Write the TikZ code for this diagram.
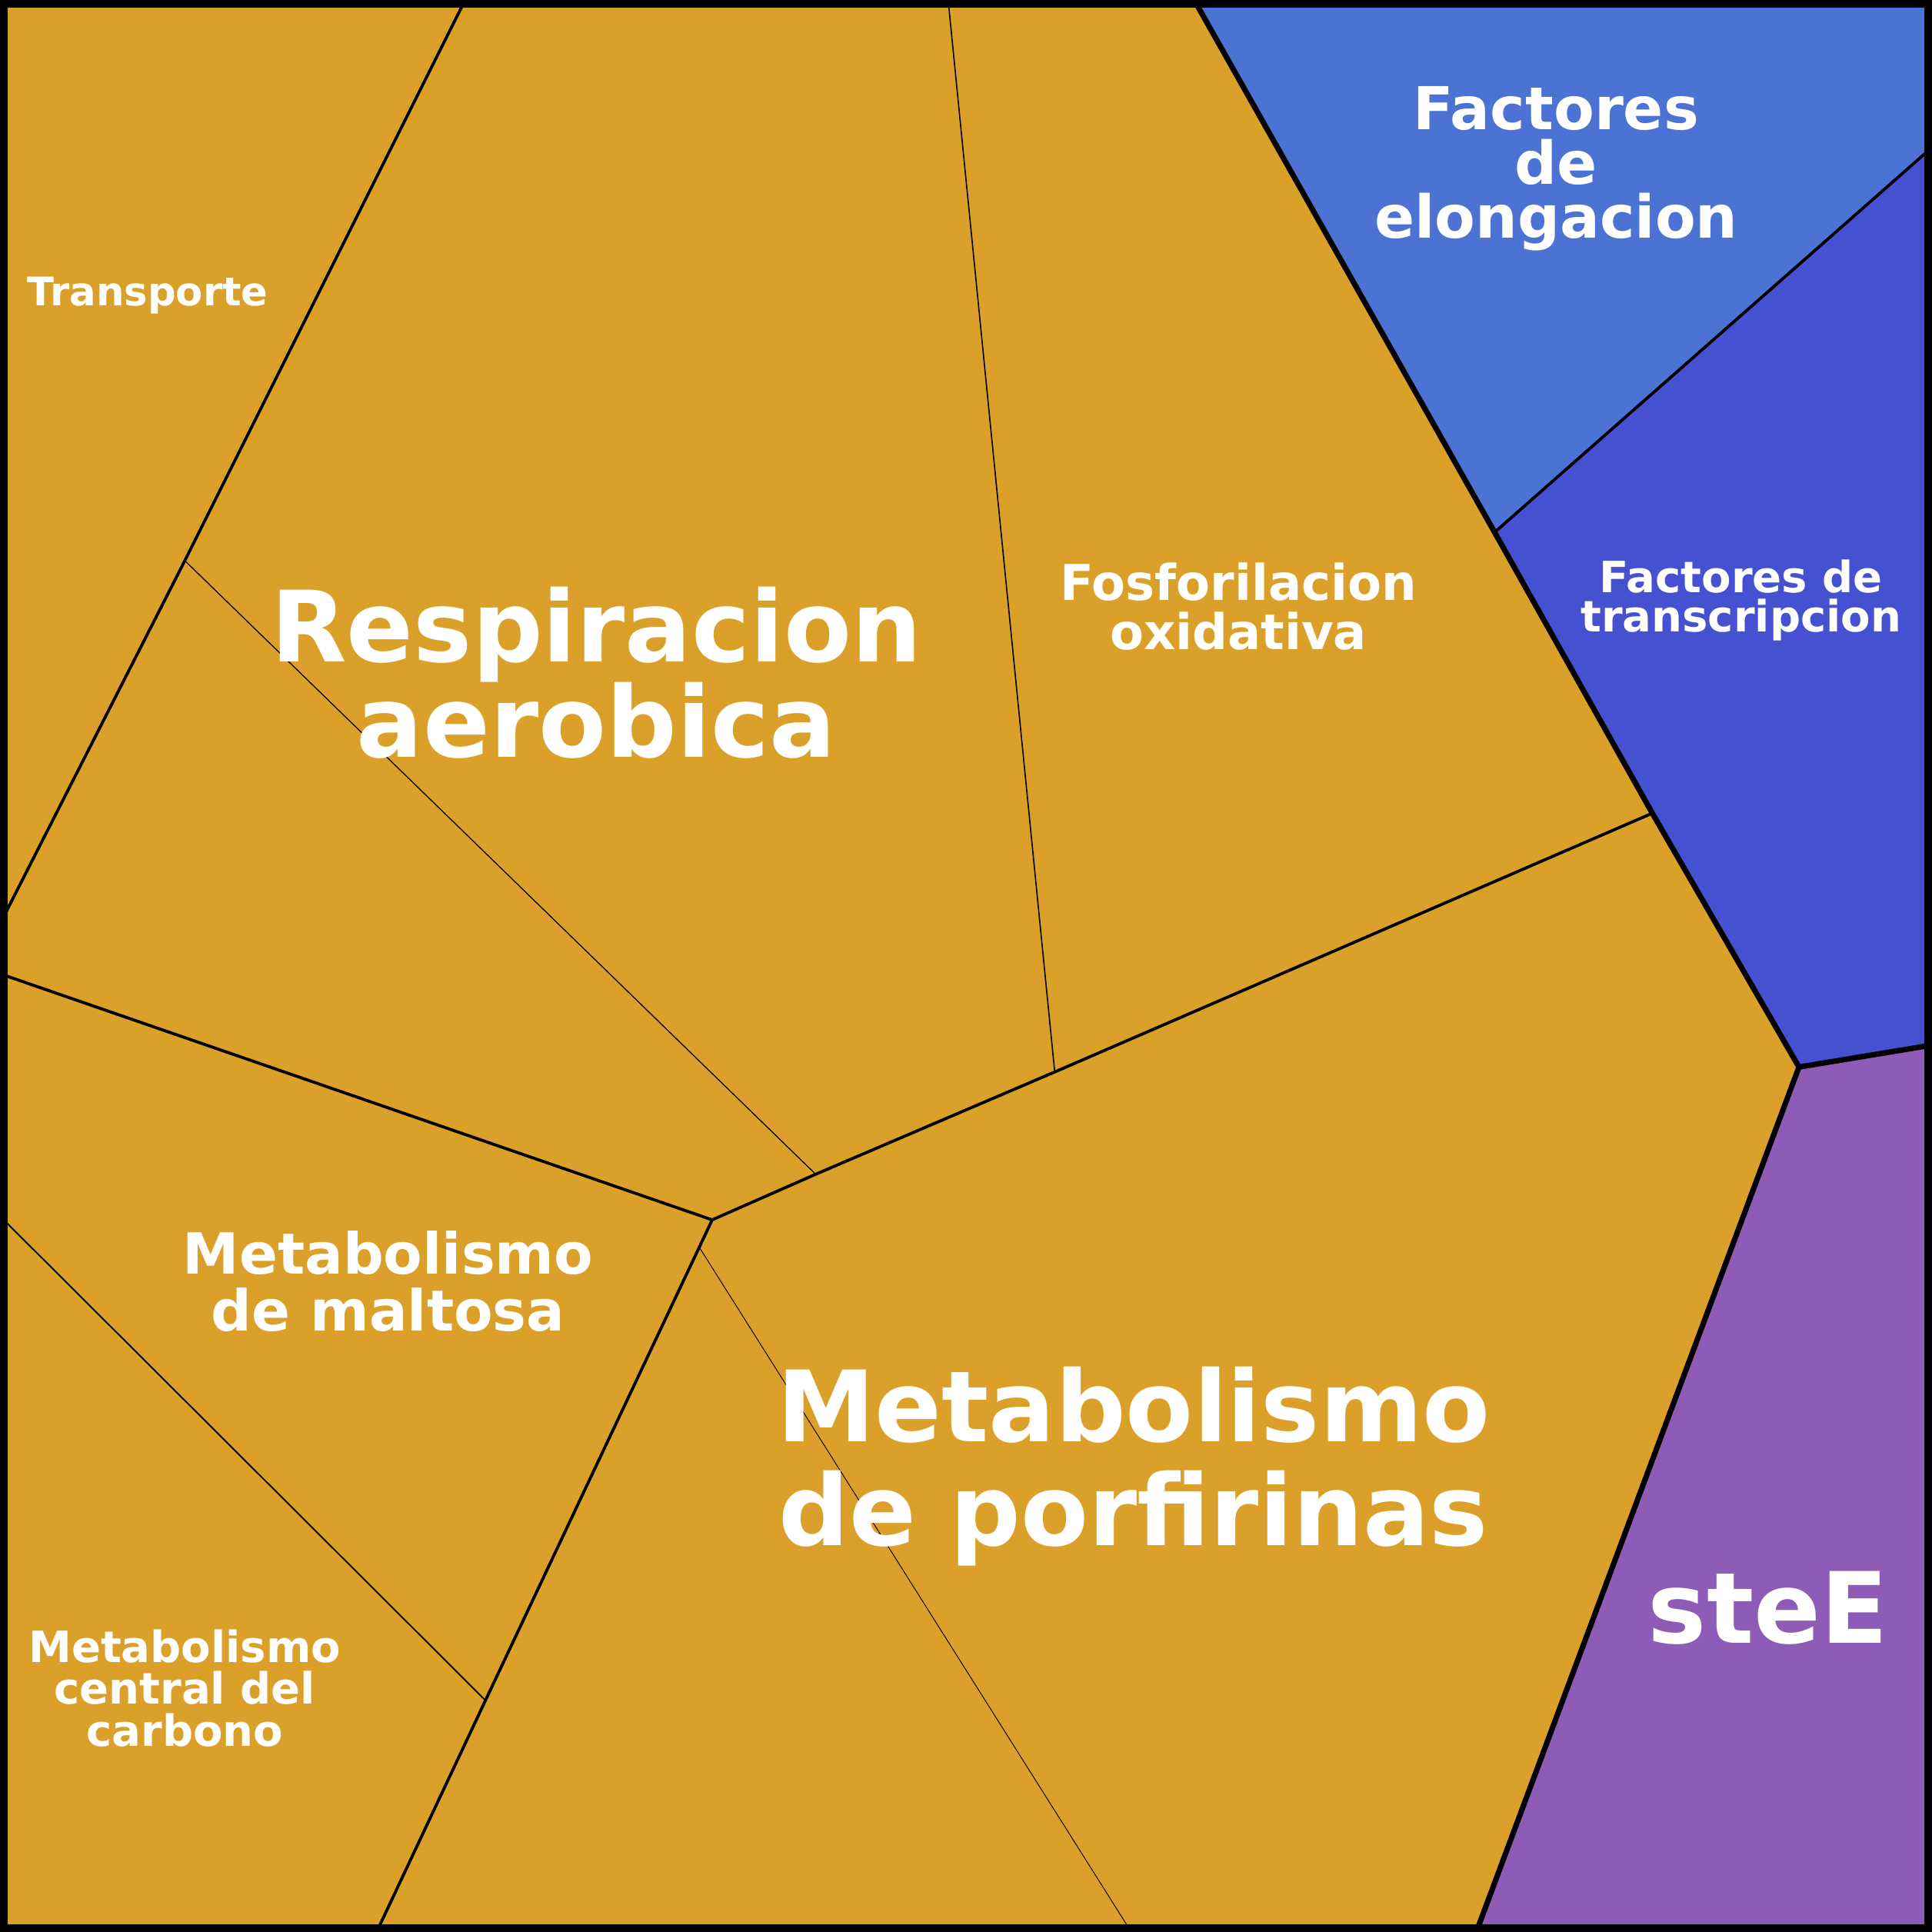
\documentclass[tikz,border=0pt]{standalone}
\usepackage{fontspec}
\setmainfont{DejaVu Sans}
\begin{document}
\begin{tikzpicture}[x=0.5pt,y=-0.5pt,
  lbl/.style={text=white,font=\bfseries,align=center,inner sep=0pt},
  fs/.style 2 args={font=\fontsize{#1}{#2}\selectfont\bfseries}]
\useasboundingbox (0,0) rectangle (1568,1568);
\definecolor{gold}{HTML}{DBA02A}
\definecolor{lblue}{HTML}{4C72D4}
\definecolor{bviol}{HTML}{4651D2}
\definecolor{purp}{HTML}{8E5BB6}
\fill[gold] (0,0) rectangle (1568,1568);
\fill[lblue] (972,5) -- (1213,432) -- (1563,124) -- (1563,5) -- cycle;
\fill[bviol] (1213,432) -- (1341,660) -- (1460,866) -- (1563,849) -- (1563,124) -- cycle;
\fill[purp] (1460,866) -- (1200,1563) -- (1563,1563) -- (1563,849) -- cycle;
\coordinate (a) at (150,455);
\coordinate (c) at (578,990);
\coordinate (d) at (662,953);
\coordinate (e) at (856,870);
\coordinate (f) at (1341,660);
\coordinate (g) at (394,1380);
\coordinate (h) at (1213,432);
\coordinate (k) at (1460,866);
\draw[line width=1.2pt] (375,5) -- (a) -- (5,740);
\draw[line width=0.4pt] (a) -- (d);
\draw[line width=0.5pt] (770,5) -- (e);
\draw[line width=1.2pt] (5,792) -- (c) -- (d) -- (e) -- (f);
\draw[line width=1.2pt] (c) -- (g) -- (308,1563);
\draw[line width=0.6pt] (5,992) -- (g);
\draw[line width=0.3pt] (568,1013) -- (915,1563);
\draw[line width=2.2pt] (972,5) -- (h) -- (f) -- (k) -- (1200,1563);
\draw[line width=1.2pt] (h) -- (1563,124);
\draw[line width=2.2pt] (k) -- (1563,849);
\draw[line width=4pt] (2,2) rectangle (1566,1566);
\node[lbl,fs={16pt}{18pt}] (t1) at (120,240) {Transporte};
\node[lbl,fs={40pt}{39pt}] (t2) at (484,546) {Respiracion\\aerobica};
\node[lbl,fs={20pt}{20pt}] (t3) at (1005,492) {Fosforilacion\\oxidativa};
\node[lbl,fs={24pt}{22pt}] (t4) at (1263,137) {Factores\\de\\elongacion};
\node[lbl,fs={17.5pt}{16pt}] (t5) at (1413,487) {Factores de\\transcripcion};
\node[lbl,fs={23pt}{23pt}] (t6) at (315,1040) {Metabolismo\\de maltosa};
\node[lbl,fs={40pt}{42pt}] (t7) at (920,1190) {Metabolismo\\de porfirinas};
\node[lbl,fs={40pt}{42pt}] (t8) at (1435,1305) {steE};
\node[lbl,fs={17.5pt}{17pt}] (t9) at (150,1370) {Metabolismo\\central del\\carbono};
\end{tikzpicture}
\end{document}
